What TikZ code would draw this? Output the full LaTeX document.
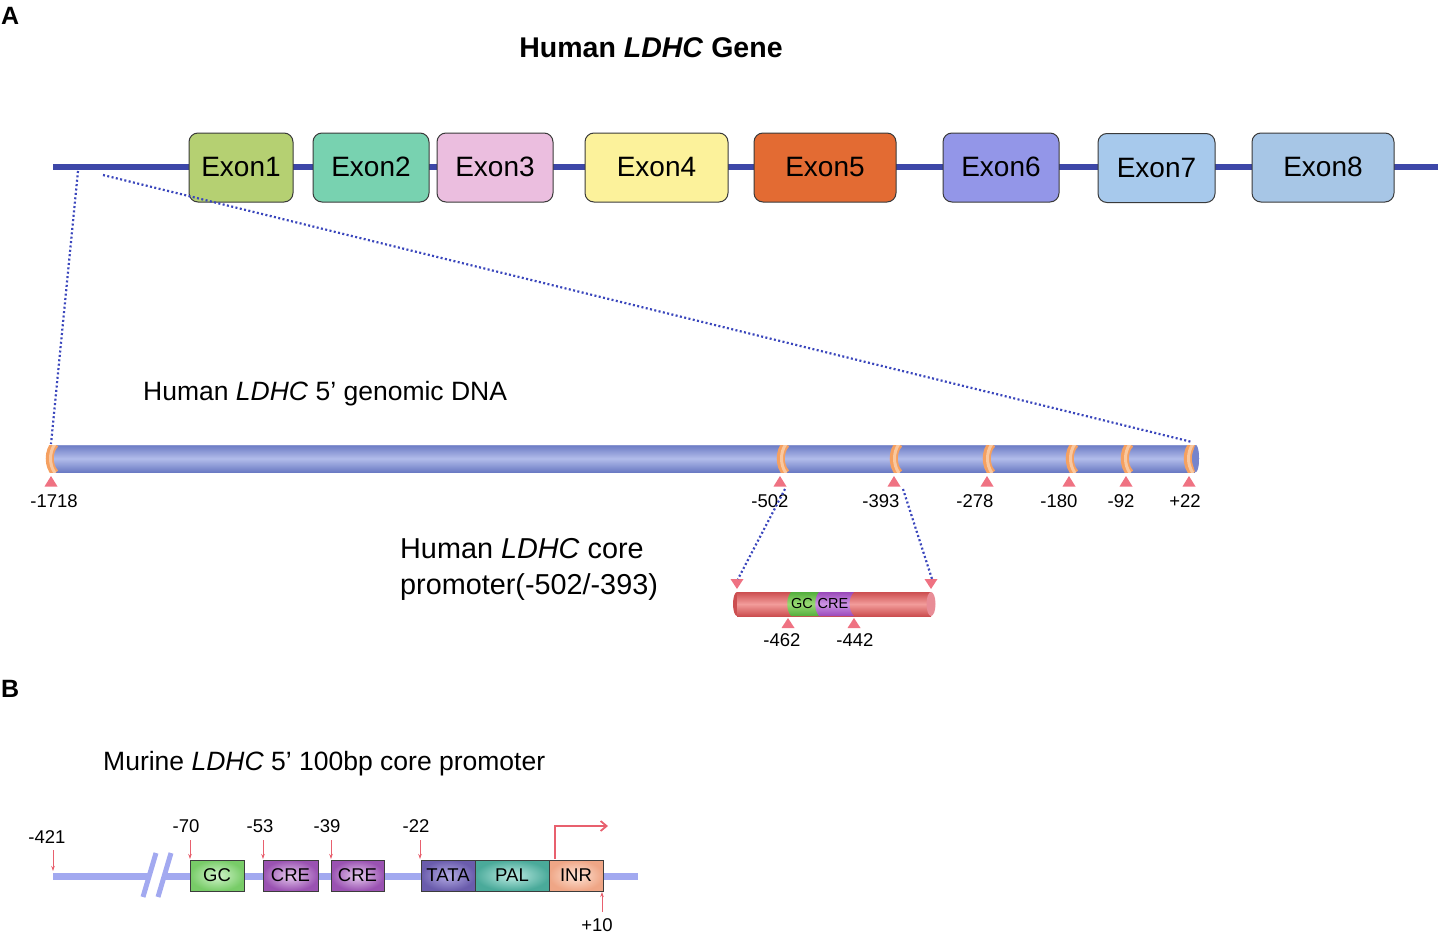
\documentclass[tikz,border=0pt]{standalone}
\usepackage{fontspec}
\setmainfont{Liberation Sans}
\usetikzlibrary{arrows.meta,shapes.geometric}
\definecolor{geneC}{HTML}{3D47A8}
\definecolor{dotC}{HTML}{3A46BC}
\definecolor{exonB}{HTML}{3A3A3A}
\definecolor{exA}{HTML}{B5D072}
\definecolor{exB}{HTML}{78D2B0}
\definecolor{exC}{HTML}{EBBEDF}
\definecolor{exD}{HTML}{FCF29B}
\definecolor{exE}{HTML}{E36B33}
\definecolor{exF}{HTML}{9396E8}
\definecolor{exG}{HTML}{A7C9EC}
\definecolor{exH}{HTML}{A7C6E6}
\definecolor{cylD}{HTML}{6B7BC4}
\definecolor{cylL}{HTML}{B2BCEA}
\definecolor{cylEnd}{HTML}{7584CC}
\definecolor{ringC}{HTML}{F5A060}
\definecolor{ringL}{HTML}{F9C8A0}
\definecolor{triC}{HTML}{EF7282}
\definecolor{redD}{HTML}{CC4E50}
\definecolor{redL}{HTML}{F29C9A}
\definecolor{redEnd}{HTML}{E88C96}
\definecolor{grD}{HTML}{52AE3C}
\definecolor{grL}{HTML}{9ADA74}
\definecolor{puD}{HTML}{9A48BA}
\definecolor{puL}{HTML}{CC94E4}
\definecolor{lineB}{HTML}{A2A9F0}
\definecolor{boxB}{HTML}{3C3C3C}
\definecolor{pinC}{HTML}{E8606E}
\definecolor{gcI}{HTML}{D2F4CC}
\definecolor{gcO}{HTML}{78CC68}
\definecolor{crI}{HTML}{E6CCEE}
\definecolor{crO}{HTML}{9A52B2}
\definecolor{taI}{HTML}{B4ACE4}
\definecolor{taO}{HTML}{6A5CAC}
\definecolor{paI}{HTML}{BCEAE2}
\definecolor{paO}{HTML}{4AAA9A}
\definecolor{inI}{HTML}{FDE4D6}
\definecolor{inO}{HTML}{EFA686}
\begin{document}
\begin{tikzpicture}[x=1pt,y=-1pt,
  exon/.style={draw=exonB, line width=1pt, rounded corners=9pt, minimum height=69pt, inner sep=0pt, font=\fontsize{28}{30}\selectfont},
  num/.style={font=\fontsize{18.5}{20}\selectfont, inner sep=0pt},
  bigtxt/.style={font=\fontsize{27}{30}\selectfont, inner sep=0pt, anchor=base west},
  bbox/.style={draw=boxB, line width=1pt, minimum height=31pt, inner sep=0pt, font=\fontsize{18.5}{20}\selectfont},
  tri/.style={fill=triC},
  dots/.style={line width=2.2pt, color=dotC, dash pattern=on 2pt off 2.4pt},
  pin/.style={draw=pinC, line width=0.8pt, -{Stealth[length=5pt,width=3.5pt]}},
  ringo/.style={line width=8pt, color=ringC},
  ringl/.style={line width=3pt, color=ringL},
]
\useasboundingbox (0,0) rectangle (1441,937);

% ---- panel labels
\node[font=\fontsize{25}{27}\selectfont\bfseries, inner sep=0pt, anchor=base west] (lA) at (1,24) {A};
\node[font=\fontsize{25}{27}\selectfont\bfseries, inner sep=0pt, anchor=base west] (lB) at (1,697) {B};

% ---- title
\node[font=\fontsize{28.5}{30}\selectfont\bfseries, inner sep=0pt, anchor=base] (title) at (651,57) {Human \textit{LDHC} Gene};

% ---- gene line and exons
\coordinate (gL) at (53,167);
\coordinate (gR) at (1438,167);
\draw[geneC, line width=6pt] (gL) -- (gR);
\node[exon, fill=exA, minimum width=104pt] (e1) at (241,167.5) {\raisebox{2pt}{Exon1}};
\node[exon, fill=exB, minimum width=116pt] (e2) at (371,167.5) {\raisebox{2pt}{Exon2}};
\node[exon, fill=exC, minimum width=116pt] (e3) at (495,167.5) {\raisebox{2pt}{Exon3}};
\node[exon, fill=exD, minimum width=143pt] (e4) at (656.5,167.5) {\raisebox{2pt}{Exon4}};
\node[exon, fill=exE, minimum width=142pt] (e5) at (825,167.5) {\raisebox{2pt}{Exon5}};
\node[exon, fill=exF, minimum width=116pt] (e6) at (1001,167.5) {\raisebox{2pt}{Exon6}};
\node[exon, fill=exG, minimum width=117pt] (e7) at (1156.5,168) {\raisebox{-1pt}{Exon7}};
\node[exon, fill=exH, minimum width=142pt] (e8) at (1323,167.5) {\raisebox{2pt}{Exon8}};

% ---- genomic DNA cylinder
\node[bigtxt, font=\fontsize{26.5}{30}\selectfont] (gtxt) at (143,400) {Human \textit{LDHC} 5’ genomic DNA};
\fill[ringC] (51,458.5) ellipse[x radius=4, y radius=13.5];
\shade[top color=cylD, bottom color=cylD, middle color=cylL] (52,445) rectangle (1195,472);
\draw[cylD!80!white, line width=0.6pt] (52,445.3) -- (1195,445.3);
\fill[cylEnd] (1195,458.5) ellipse[x radius=4, y radius=13.5];
\begin{scope}
\clip (40,445) rectangle (1200,472);
\draw[ringo] (55,444) .. controls (48,451) and (48,466) .. (55,473);
\draw[ringl] (55,444) .. controls (49,452) and (49,465) .. (55,473);
\foreach \x in {782,895,988,1071,1126,1189}{
  \draw[ringo] (\x+4,444) .. controls (\x-3,451) and (\x-3,466) .. (\x+4,473);
  \draw[ringl] (\x+4,444) .. controls (\x-2,452) and (\x-2,465) .. (\x+4,473);
}
\end{scope}
\fill[cylEnd] (1196,458.5) ellipse[x radius=3, y radius=13.5];
\foreach \x/\lx/\l/\nm in {51/54/-1718/a,780/770/-502/b,894/881/-393/c,987/975/-278/d,1069/1059/-180/e,1126/1121/-92/f,1189/1185/+22/g}{
  \fill[tri] (\x,476) -- (\x+6.5,486.5) -- (\x-6.5,486.5) -- cycle;
  \node[num] (p\nm) at (\lx,501) {\l};
}

% ---- zoom dotted lines (gene -> genomic)
\coordinate (z1a) at (78,171);
\coordinate (z1b) at (51,444);
\coordinate (z2a) at (103,175);
\coordinate (z2b) at (1192,442);
\draw[dots] (z1a) -- (z1b);
\draw[dots] (z2a) -- (z2b);

% ---- core promoter text
\node[bigtxt, font=\fontsize{28.8}{30}\selectfont] (ct1) at (400,558) {Human \textit{LDHC} core};
\node[bigtxt, font=\fontsize{28.8}{30}\selectfont] (ct2) at (400,594) {promoter(-502/-393)};

% ---- red cylinder
\fill[redD] (737,604) ellipse[x radius=4, y radius=12];
\shade[top color=redD, bottom color=redD, middle color=redL] (737,592) rectangle (931,616);
\shade[top color=grD, bottom color=grD, middle color=grL] (791,592) .. controls (786,598) and (786,610) .. (791,616) -- (821,616) -- (821,592) -- cycle;
\shade[top color=puD, bottom color=puD, middle color=puL] (819,592) -- (854,592) .. controls (848,598) and (848,610) .. (854,616) -- (819,616) .. controls (814,610) and (814,598) .. cycle;
\fill[redEnd] (931,604) ellipse[x radius=4.5, y radius=12];
\node[font=\fontsize{14.5}{16}\selectfont, inner sep=0pt] (gcl) at (802,604) {GC};
\node[font=\fontsize{14.5}{16}\selectfont, inner sep=0pt] (crl) at (833,604) {CRE};
\fill[tri] (737,589) -- (743.5,579) -- (730.5,579) -- cycle;
\fill[tri] (931,589) -- (937.5,579) -- (924.5,579) -- cycle;
\fill[tri] (788,618) -- (794.5,628) -- (781.5,628) -- cycle;
\fill[tri] (854,618) -- (860.5,628) -- (847.5,628) -- cycle;
\node[num] (m462) at (782,640) {-462};
\node[num] (m442) at (855,640) {-442};

% ---- dotted lines genomic -> core
\coordinate (z3a) at (785,489);
\coordinate (z3b) at (738,579);
\coordinate (z4a) at (903,489);
\coordinate (z4b) at (932,579);
\draw[dots] (z3a) -- (z3b);
\draw[dots] (z4a) -- (z4b);

% ---- panel B
\node[bigtxt, font=\fontsize{26.5}{30}\selectfont] (mtxt) at (103,770) {Murine \textit{LDHC} 5’ 100bp core promoter};
\coordinate (bL) at (53,876);
\coordinate (bM1) at (149,876);
\coordinate (bM2) at (164,876);
\coordinate (bR) at (638,876);
\draw[lineB, line width=7pt] (bL) -- (bM1);
\draw[lineB, line width=7pt] (bM2) -- (bR);
\draw[lineB, line width=5pt] (156,853) -- (143,897);
\draw[lineB, line width=5pt] (171,853) -- (158,897);

\node[bbox, minimum width=54pt, inner color=gcI, outer color=gcO] (bgc) at (217,875.5) {GC};
\node[bbox, minimum width=55pt, inner color=crI, outer color=crO] (bcre1) at (290.5,875.5) {CRE};
\node[bbox, minimum width=53pt, inner color=crI, outer color=crO] (bcre2) at (357.5,875.5) {CRE};
\node[bbox, minimum width=54pt, inner color=taI, outer color=taO] (btata) at (448,875.5) {TATA};
\node[bbox, minimum width=74pt, inner color=paI, outer color=paO] (bpal) at (512,875.5) {PAL};
\node[bbox, minimum width=54pt, inner color=inI, outer color=inO] (binr) at (576,875.5) {INR};

\node[num] (n421) at (47,837) {-421};
\node[num] (n70) at (186,826) {-70};
\node[num] (n53) at (260,826) {-53};
\node[num] (n39) at (327,826) {-39};
\node[num] (n22) at (416,826) {-22};
\node[num] (n10) at (597,925) {+10};
\draw[pin] (53,850) -- (53,871);
\draw[pin] (190,840) -- (190,859);
\draw[pin] (263,840) -- (263,859);
\draw[pin] (331,840) -- (331,859);
\draw[pin] (420,840) -- (420,859);
\draw[pin] (602,912) -- (602,892);
\coordinate (tss) at (555,859);
\coordinate (tssE) at (608,826);
\draw[pinC, line width=1.8pt, -{Straight Barb[length=6pt,width=10pt]}] (tss) |- (tssE);
\end{tikzpicture}
\end{document}
